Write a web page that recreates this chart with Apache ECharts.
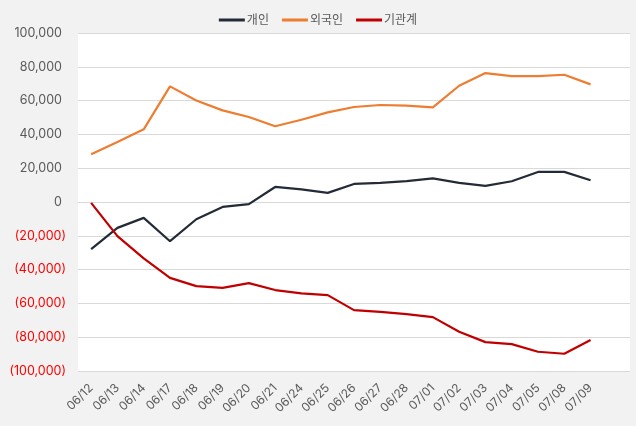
<!DOCTYPE html>
<html><head><meta charset="utf-8">
<script src="https://cdn.jsdelivr.net/npm/echarts@6/dist/echarts.min.js"></script>
<style>html,body{margin:0;padding:0;background:#f2f2f2;}#c{width:636px;height:426px;}</style>
</head><body><div id="c"></div>
<script>
const categories = ['06/12','06/13','06/14','06/17','06/18','06/19','06/20','06/21','06/24','06/25','06/26','06/27','06/28','07/01','07/02','07/03','07/04','07/05','07/08','07/09'];
const individual = [-27900,-15300,-9400,-23200,-10200,-2900,-1300,8900,7500,5400,10700,11300,12400,14000,11300,9500,12300,17800,17800,12900];
const foreign = [28200,35500,43000,68400,60100,54200,50300,44800,48700,53000,56200,57400,57000,56000,68800,76300,74500,74500,75300,69600];
const institution = [-500,-20200,-33400,-44900,-49800,-50800,-48000,-52100,-54100,-55100,-64000,-65000,-66300,-68100,-76800,-82900,-84100,-88600,-89800,-81700];
const seriesNames = ['개인','외국인','기관계'];
const yTicks = {min:-100000, max:100000, interval:20000};

const FONT = "Inter, 'Noto Sans CJK KR', sans-serif";
const chart = echarts.init(document.getElementById('c'));
function fmt(v){
  const s = Math.abs(v).toLocaleString('en-US');
  return v < 0 ? '{neg|(' + s + ')}' : '{pos|' + s + '}';
}
const colors = ['#232b38','#ed7d31','#c00000'];
chart.setOption({
  backgroundColor:'#f2f2f2',
  color: colors,
  textStyle:{fontFamily:FONT},
  legend:{
    data: seriesNames, top: 9, left:'center', itemWidth:26, itemHeight:3, itemGap:13,
    icon:'rect',
    textStyle:{color:'#595959', fontSize:12, fontFamily:FONT, padding:[0,0,0,-3]}
  },
  grid:{left:78, right:6, top:33, bottom:55, show:true, backgroundColor:'#ffffff', borderWidth:0},
  xAxis:{
    type:'category', data: categories, boundaryGap:true, max: categories.length,
    axisLine:{show:true, lineStyle:{color:'#d9d9d9'}},
    axisTick:{show:false},
    axisLabel:{rotate:45, color:'#595959', fontSize:12, fontFamily:FONT, interval:0, margin:15,
      formatter:(v)=> (v===undefined||v===null)?'':v}
  },
  yAxis:{
    type:'value', min:yTicks.min, max:yTicks.max, interval:yTicks.interval,
    axisLine:{show:false}, axisTick:{show:false},
    splitLine:{lineStyle:{color:'#d9d9d9'}},
    axisLabel:{margin:12, formatter: fmt,
      rich:{pos:{color:'#595959', fontSize:12.5, fontFamily:FONT, padding:[0,4,0,0]}, neg:{color:'#ff0000', fontSize:12.5, fontFamily:FONT}}}
  },
  series:[
    {name:seriesNames[0], type:'line', data:individual, symbol:'none', lineStyle:{width:2.2}},
    {name:seriesNames[1], type:'line', data:foreign, symbol:'none', lineStyle:{width:2.2}},
    {name:seriesNames[2], type:'line', data:institution, symbol:'none', lineStyle:{width:2.2}}
  ]
});
</script></body></html>
